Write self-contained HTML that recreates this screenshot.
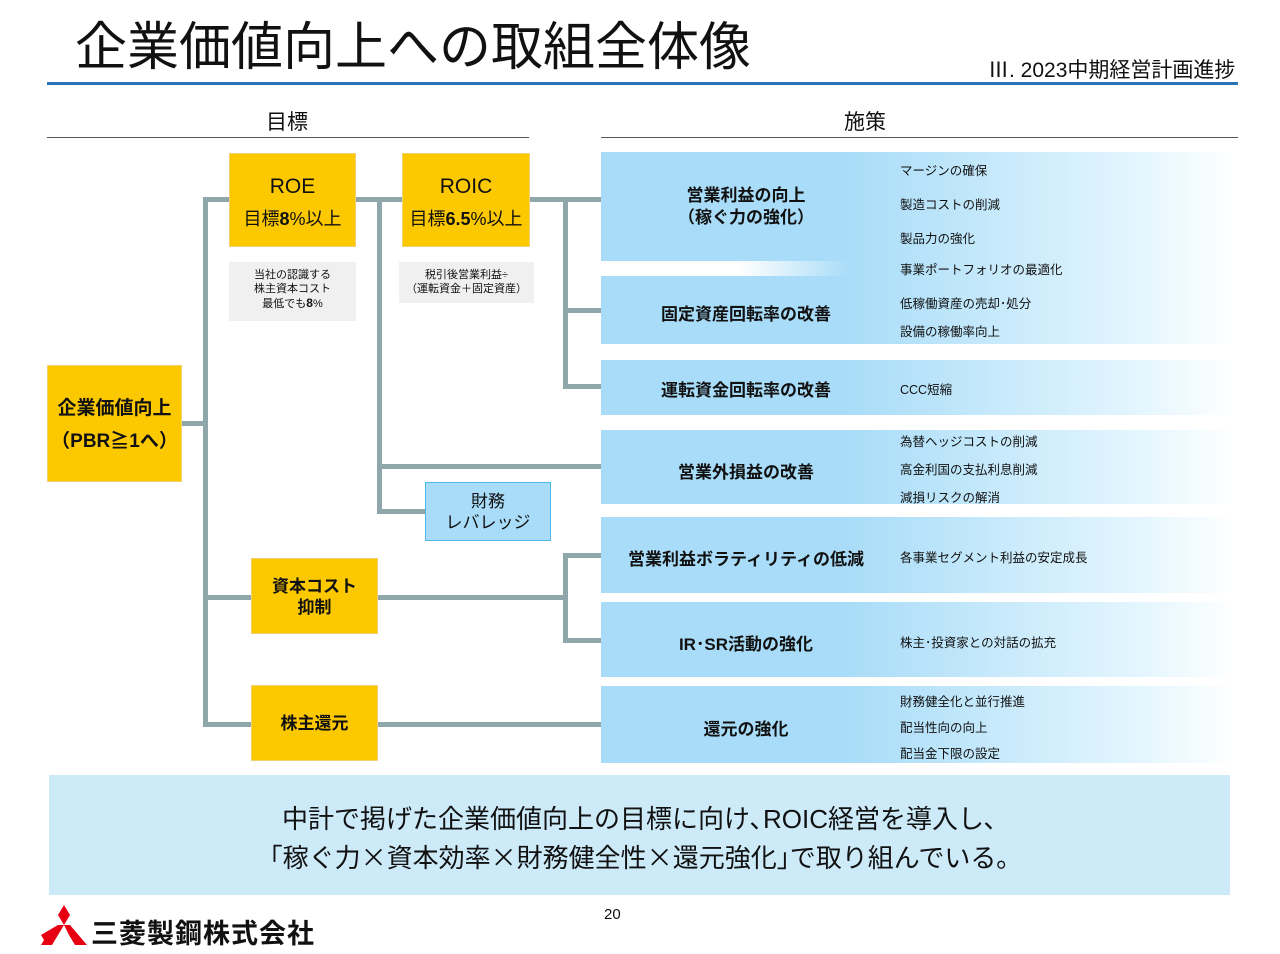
<!DOCTYPE html>
<html><head><meta charset="utf-8"><style>
body{margin:0;width:1280px;height:954px;background:#fff;position:relative;overflow:hidden;font-family:"Liberation Sans","Noto Sans CJK JP",sans-serif;color:#111}
div{position:absolute;box-sizing:border-box}
.ln{background:#8fa7aa}
.y{background:#fcc800;border:1px solid #f0d070;text-align:center;font-weight:bold}
.b{left:601px;width:636px;background:linear-gradient(90deg,#a8dcf8 0,#a8dcf8 38%,#e4f6fe 85%,#fff 100%)}
.bt{left:0;width:290px;text-align:center;font-weight:bold;font-size:17px}
.s{font-size:12.5px;left:299px;white-space:nowrap}
.g{background:#f0f0f0;font-size:11px;text-align:center;line-height:14px}
.x{font-family:"Noto Sans CJK JP",sans-serif}
</style></head><body>
<div style="left:75px;top:12px;font-size:52px;line-height:72px">企業価値向上への取組全体像</div>
<div style="left:988px;top:54px;font-size:21px;white-space:nowrap">Ⅲ. 2023中期経営計画進捗</div>
<div style="left:47px;top:82px;width:1191px;height:3px;background:#2a73b8"></div>
<div style="left:266px;top:106px;font-size:21px">目標</div>
<div style="left:47px;top:137px;width:482px;height:1px;background:#555"></div>
<div style="left:844px;top:106px;font-size:21px">施策</div>
<div style="left:601px;top:137px;width:637px;height:1px;background:#555"></div>

<!-- connectors -->
<div class="ln" style="left:181px;top:421px;width:26px;height:5px"></div>
<div class="ln" style="left:203px;top:197px;width:5px;height:530px"></div>
<div class="ln" style="left:203px;top:197px;width:398px;height:5px"></div>
<div class="ln" style="left:377px;top:197px;width:5px;height:316px"></div>
<div class="ln" style="left:377px;top:464px;width:224px;height:5px"></div>
<div class="ln" style="left:377px;top:509px;width:48px;height:5px"></div>
<div class="ln" style="left:563px;top:197px;width:5px;height:192px"></div>
<div class="ln" style="left:563px;top:308px;width:38px;height:5px"></div>
<div class="ln" style="left:563px;top:384px;width:38px;height:5px"></div>
<div class="ln" style="left:203px;top:595px;width:362px;height:5px"></div>
<div class="ln" style="left:563px;top:553px;width:5px;height:90px"></div>
<div class="ln" style="left:563px;top:553px;width:38px;height:5px"></div>
<div class="ln" style="left:563px;top:638px;width:38px;height:5px"></div>
<div class="ln" style="left:203px;top:722px;width:398px;height:5px"></div>

<!-- yellow boxes -->
<div class="y" style="left:47px;top:365px;width:135px;height:117px;font-size:19px;line-height:33px;padding-top:26px">企業価値向上<br>（PBR≧1へ）</div>
<div class="y" style="left:229px;top:153px;width:127px;height:94px;font-weight:normal;font-size:18px;line-height:32px;padding-top:17px"><span style="font-size:21px">ROE</span><br>目標<b>8</b>%以上</div>
<div class="y" style="left:402px;top:153px;width:128px;height:94px;font-weight:normal;font-size:18px;line-height:32px;padding-top:17px"><span style="font-size:21px">ROIC</span><br>目標<b>6.5</b>%以上</div>
<div class="y" style="left:251px;top:558px;width:127px;height:76px;font-size:17px;line-height:21px;padding-top:17px">資本コスト<br>抑制</div>
<div class="y" style="left:251px;top:685px;width:127px;height:76px;font-size:17px;line-height:76px">株主還元</div>
<div style="left:425px;top:482px;width:126px;height:59px;background:#a8dcf8;border:1px solid #50b8e8;text-align:center;font-size:17px;line-height:21px;padding-top:8px">財務<br>レバレッジ</div>
<div class="g" style="left:229px;top:262px;width:127px;height:59px;padding-top:6px">当社の認識する<br>株主資本コスト<br>最低でも<b style="font-size:12px">8</b>%</div>
<div class="g" style="left:399px;top:262px;width:135px;height:41px;padding-top:6px">税引後営業利益÷<br>（運転資金＋固定資産）</div>

<!-- blue boxes -->
<div class="b" style="top:152px;height:124px"></div>
<div style="left:601px;top:261px;width:250px;height:15px;background:linear-gradient(90deg,#fff 0,#fff 55%,rgba(255,255,255,0) 100%)"></div>
<div class="b" style="top:152px;height:109px;background:none"><div class="bt" style="top:33px;line-height:22px">営業利益の向上<br>（稼ぐ力の強化）</div>
<div class="s" style="top:8px">マージンの確保</div><div class="s" style="top:42px">製造コストの削減</div><div class="s" style="top:76px">製品力の強化</div></div>
<div class="b" style="top:276px;height:68px"><div class="bt" style="top:24px">固定資産回転率の改善</div>
<div class="s" style="top:-17px">事業ポートフォリオの最適化</div><div class="s" style="top:17px">低稼働資産の売却･処分</div><div class="s" style="top:45px">設備の稼働率向上</div></div>
<div class="b" style="top:360px;height:55px"><div class="bt" style="top:16px">運転資金回転率の改善</div><div class="s" style="top:19px">CCC短縮</div></div>
<div class="b" style="top:430px;height:74px"><div class="bt" style="top:28px">営業外損益の改善</div>
<div class="s" style="top:1px">為替ヘッジコストの削減</div><div class="s" style="top:29px">高金利国の支払利息削減</div><div class="s" style="top:57px">減損リスクの解消</div></div>
<div class="b" style="top:517px;height:76px"><div class="bt" style="top:28px">営業利益ボラティリティの低減</div><div class="s" style="top:30px">各事業セグメント利益の安定成長</div></div>
<div class="b" style="top:602px;height:75px"><div class="bt" style="top:28px">IR･SR活動の強化</div><div class="s" style="top:30px">株主･投資家との対話の拡充</div></div>
<div class="b" style="top:686px;height:77px"><div class="bt" style="top:29px">還元の強化</div>
<div class="s" style="top:5px">財務健全化と並行推進</div><div class="s" style="top:31px">配当性向の向上</div><div class="s" style="top:57px">配当金下限の設定</div></div>

<!-- banner -->
<div style="left:49px;top:775px;width:1181px;height:120px;background:#cdeaf9;text-align:center;font-size:26px;line-height:37px;padding-top:26px">中計で掲げた企業価値向上の目標に向け､ROIC経営を導入し､<br>｢稼ぐ力<span class="x">×</span>資本効率<span class="x">×</span>財務健全性<span class="x">×</span>還元強化｣で取り組んでいる｡</div>
<div style="left:604px;top:906px;font-size:15px">20</div>

<!-- logo -->
<svg style="position:absolute;left:41px;top:905px" width="46" height="40" viewBox="0 0 46 40">
<polygon points="23,0 29,10 23,20 17,10" fill="#e60012"/>
<polygon points="17,20 23,20 17,30 6,40 0,30" fill="#e60012"/>
<polygon points="0,40 11,40 17,30 6,30" fill="#e60012"/>
<polygon points="23,20 29,20 46,40 34,40 28,30" fill="#e60012"/>
</svg>
<div style="left:91px;top:912px;font-size:27px;font-weight:bold;letter-spacing:1px;white-space:nowrap">三菱製鋼株式会社</div>
</body></html>
